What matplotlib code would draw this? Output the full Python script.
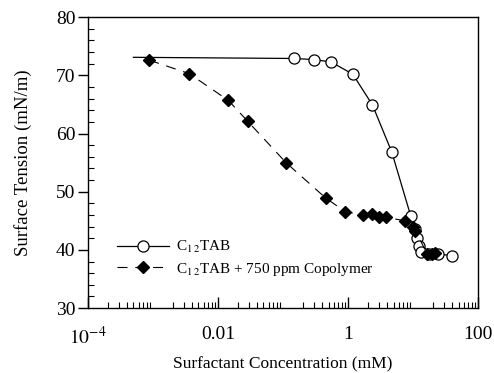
import numpy as np
import matplotlib
matplotlib.use("Agg")
import matplotlib.pyplot as plt
from matplotlib.ticker import FixedLocator, LogLocator, MultipleLocator, NullFormatter

plt.rcParams['font.family'] = ['Liberation Serif', 'DejaVu Serif']
plt.rcParams['mathtext.fontset'] = 'stix'

# C12TAB alone (first point is the start of the guide line, no marker)
tab_x = [5.0e-4, 0.149, 0.303, 0.547, 1.18, 2.37, 4.70, 9.2, 10.5, 11.5, 12.3, 13.4, 17.5, 24.5, 39.5]
tab_y = [73.1, 72.9, 72.7, 72.3, 70.2, 64.9, 56.8, 45.8, 43.6, 42.0, 40.6, 39.7, 39.3, 39.3, 39.0]

# C12TAB + 750 ppm copolymer
cop_x = [8.8e-4, 0.0036, 0.0144, 0.0286, 0.111, 0.454, 0.90, 1.70, 2.35, 3.0, 3.85, 7.5, 10.0, 10.8, 16.5, 19.5, 22.0]
cop_y = [72.6, 70.3, 65.7, 62.1, 55.0, 48.9, 46.6, 46.0, 46.1, 45.7, 45.6, 45.0, 43.9, 43.3, 39.3, 39.3, 39.4]

fig = plt.figure(figsize=(4.94, 3.73), dpi=100)
ax = fig.add_axes([0.178, 0.174, 0.79, 0.78])

ax.plot(tab_x, tab_y, '-', color='black', lw=0.9, marker='o', ms=8,
        mfc='white', mec='black', mew=0.9, markevery=list(range(1, len(tab_x))),
        label=r'C$_{1\,2}$TAB')
ax.plot(cop_x, cop_y, color='black', lw=0.8, ls=(0, (9, 7)), marker='D', ms=6,
        mfc='black', mec='black', label=r'C$_{1\,2}$TAB + 750 ppm Copolymer')

ax.set_xscale('log')
ax.set_xlim(1e-4, 100)
ax.set_ylim(30, 80)
ax.xaxis.set_major_locator(FixedLocator([1e-4, 1e-2, 1, 100]))
ax.set_xticklabels([r'$10^{-4}$', '0.01', '1', '100'])
ax.xaxis.set_minor_locator(LogLocator(base=10, subs=np.arange(2, 10)))
ax.xaxis.set_minor_formatter(NullFormatter())
ax.yaxis.set_major_locator(MultipleLocator(10))
ax.yaxis.set_minor_locator(MultipleLocator(2))

ax.tick_params(axis='x', which='major', direction='in', length=8, width=1, labelsize=14, pad=13)
ax.tick_params(axis='x', which='minor', direction='in', length=4, width=0.8)
ax.tick_params(axis='y', which='major', direction='out', length=7, width=1, labelsize=14, pad=2)
ax.tick_params(axis='y', which='minor', direction='in', length=4, width=0.8)
for s in ax.spines.values():
    s.set_linewidth(1.0)

ax.set_xlabel('Surfactant Concentration (mM)', fontsize=12.5, labelpad=6)
ax.set_ylabel('Surface Tension (mN/m)', fontsize=13.5, labelpad=17)

ax.legend(loc='lower left', bbox_to_anchor=(0.06, 0.083), frameon=False, fontsize=11,
          handlelength=3.4, handletextpad=0.4, labelspacing=0.35, borderaxespad=0)

fig.savefig('out.png', dpi=100)
